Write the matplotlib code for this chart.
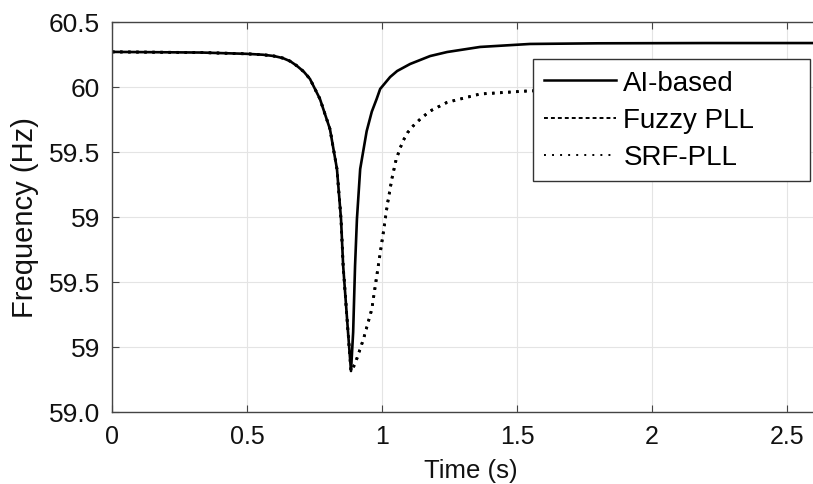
import matplotlib
matplotlib.use("Agg")
import matplotlib.pyplot as plt
from matplotlib.lines import Line2D


# ===================================================
# DATA
# ===================================================

# AI-based (solid)
time_ai = [0.0, 0.33, 0.5, 0.56, 0.6, 0.633, 0.66, 0.685, 0.71, 0.733, 0.77, 0.807, 0.833,
           0.848, 0.856, 0.874, 0.885, 0.893, 0.9, 0.907, 0.919, 0.943, 0.962, 0.98,
           0.993, 1.03, 1.056, 1.104, 1.178, 1.241, 1.363, 1.548, 1.8, 2.2, 2.6]
freq_ai = [60.27, 60.265, 60.255, 60.248, 60.238, 60.222, 60.198, 60.162, 60.118, 60.062,
           59.908, 59.677, 59.369, 58.985, 58.623, 58.115, 57.815, 58.115, 58.623, 58.985,
           59.369, 59.66, 59.81, 59.908, 59.985, 60.077, 60.123, 60.177, 60.238, 60.269,
           60.308, 60.331, 60.336, 60.338, 60.338]

# Fuzzy PLL / SRF-PLL (dotted, on top of each other)
time_fuzzy = [0.0, 0.33, 0.5, 0.56, 0.6, 0.633, 0.66, 0.685, 0.71, 0.733, 0.77, 0.807, 0.833,
              0.848, 0.856, 0.874, 0.885, 0.9, 0.931, 0.962, 0.986, 1.005, 1.02,
              1.037, 1.052, 1.067, 1.079, 1.095, 1.115, 1.145, 1.178, 1.241, 1.363, 1.537,
              1.8, 2.2, 2.6]
freq_fuzzy = [60.27, 60.265, 60.255, 60.248, 60.238, 60.222, 60.198, 60.162, 60.118, 60.062,
              59.908, 59.677, 59.369, 58.985, 58.623, 58.115, 57.815, 57.869, 58.06, 58.29,
              58.625, 58.885, 59.10, 59.30, 59.44, 59.53, 59.59, 59.65, 59.70, 59.76,
              59.815, 59.882, 59.946, 59.969, 59.985, 59.985, 59.985]
time_srf = time_fuzzy
freq_srf = freq_fuzzy

series_names = ["AI-based", "Fuzzy PLL", "SRF-PLL"]

x_ticks = [0, 0.5, 1, 1.5, 2, 2.5]
x_tick_labels = ["0", "0.5", "1", "1.5", "2", "2.5"]
y_ticks = [60.5, 60.0, 59.5, 59.0, 58.5, 58.0, 57.5]
y_tick_labels = ["60.5", "60", "59.5", "59", "59.5", "59", "59.0"]


# ===================================================
# PLOT
# ===================================================

plt.rcParams["font.family"] = ["Liberation Sans", "DejaVu Sans"]
plt.rcParams["lines.scale_dashes"] = False

fig = plt.figure(figsize=(8.13, 4.85), dpi=100)
ax = fig.add_axes([0.1378, 0.1485, 0.8622, 0.8041])

dots = (0, (1.8, 4.0))

ax.plot(time_fuzzy, freq_fuzzy, color="black", lw=2.0, linestyle=dots)
ax.plot(time_srf, freq_srf, color="black", lw=2.0, linestyle=dots)
ax.plot(time_ai, freq_ai, color="black", lw=1.9)

ax.set_xlim(0, 2.596)
ax.set_ylim(57.5, 60.5)

ax.set_xticks(x_ticks)
ax.set_xticklabels(x_tick_labels)
ax.set_yticks(y_ticks)
ax.set_yticklabels(y_tick_labels)

ax.grid(True, color="#e4e4e4", lw=0.8)
ax.set_axisbelow(True)

for side in ["left", "bottom", "top"]:
    ax.spines[side].set_color("#444444")
    ax.spines[side].set_linewidth(1.0)
ax.spines["right"].set_visible(False)

ax.tick_params(direction="in", length=5, width=0.8, color="#444444",
               top=True, right=False)
ax.tick_params(axis="x", labelsize=18, pad=9, labelcolor="#111111")
ax.tick_params(axis="y", labelsize=19, pad=8.5, labelcolor="#111111")

ax.set_xlabel("Time (s)", fontsize=18.5, color="#111111")
ax.set_ylabel("Frequency (Hz)", fontsize=21, color="#111111")
ax.xaxis.set_label_coords(0.512, -0.118)
ax.yaxis.set_label_coords(-0.104, 0.5)

# legend handles (the two dotted series share one path)
handles = [
    Line2D([], [], color="black", lw=1.8),
    Line2D([], [], color="black", lw=1.4, linestyle=(0, (2.8, 2.2))),
    Line2D([], [], color="black", lw=1.4, linestyle=(0, (1.4, 4.4))),
]
leg = ax.legend(handles, series_names, loc="upper left",
                bbox_to_anchor=(0.6006, 0.597, 0.395, 0.308), mode="expand",
                borderaxespad=0, fontsize=20, handlelength=2.6,
                handletextpad=0.25, labelspacing=0.4, borderpad=0.4,
                fancybox=False, framealpha=1)
leg.get_frame().set_edgecolor("#333333")
leg.get_frame().set_linewidth(1.0)

fig.savefig("out.png", dpi=100)
